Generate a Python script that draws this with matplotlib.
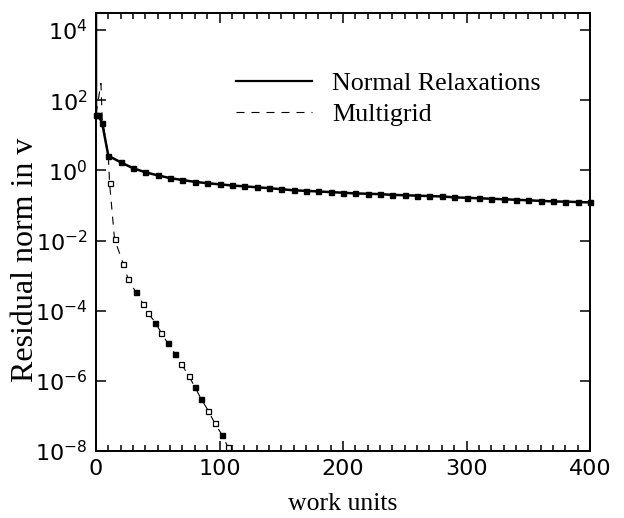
import numpy as np
import matplotlib
matplotlib.use("Agg")
import matplotlib.pyplot as plt
from matplotlib.lines import Line2D
from matplotlib.ticker import FixedLocator, MultipleLocator, NullLocator

# normal relaxations: residual vs work units
normal_x = [0, 0, 2, 5, 10, 20, 30, 40, 50, 60, 70, 80, 90, 100,
            110, 120, 130, 140, 150, 160, 170, 180, 190, 200,
            210, 220, 230, 240, 250, 260, 270, 280, 290, 300,
            310, 320, 330, 340, 350, 360, 370, 380, 390, 400]
normal_y = [1e5, 37, 37, 22, 2.6, 1.7, 1.15, 0.88, 0.72, 0.60, 0.53, 0.47, 0.43, 0.40,
            0.37, 0.35, 0.33, 0.31, 0.29, 0.27, 0.26, 0.25, 0.24, 0.23,
            0.22, 0.215, 0.21, 0.20, 0.195, 0.19, 0.185, 0.18, 0.17, 0.165,
            0.16, 0.155, 0.15, 0.145, 0.14, 0.135, 0.13, 0.128, 0.125, 0.122]

# multigrid
multi_x = [0, 4, 5, 10, 11, 15, 22, 26, 32, 38, 42, 48, 53, 58, 64, 69,
           75, 80, 85, 91, 96, 102, 107]
multi_y = [40, 300, 30, 2.6, 0.43, 0.011, 2.2e-3, 8e-4, 3.5e-4, 1.6e-4, 8.7e-5,
           4.6e-5, 2.3e-5, 1.2e-5, 5.9e-6, 3.1e-6, 1.4e-6, 6.8e-7, 3.1e-7,
           1.4e-7, 6.3e-8, 2.9e-8, 1.26e-8]
multi_filled = [0, 0, 0, 0, 0, 0, 0, 0, 1, 0, 0, 1, 0, 1, 1, 0,
                0, 1, 1, 0, 0, 1, 0]

x_ticks = [0, 100, 200, 300, 400]
y_exps = [4, 2, 0, -2, -4, -6, -8]

fig = plt.figure(figsize=(6.24, 5.18), dpi=100)
ax = fig.add_axes([96 / 624, 1 - 451 / 518, 494 / 624, 438 / 518])

# normal relaxations
ax.plot(normal_x, normal_y, color="black", lw=1.8, zorder=3)
ax.plot(normal_x[1:], normal_y[1:], ls="none", marker="s", ms=3.6,
        color="black", zorder=4, clip_on=False)

# multigrid
ax.plot(multi_x, multi_y, color="black", lw=0.8, dashes=(7.2, 6.3), zorder=3)
mx = np.array(multi_x[4:])
my = np.array(multi_y[4:])
mf = np.array(multi_filled[4:], dtype=bool)
ax.plot(mx[~mf], my[~mf], ls="none", marker="s", ms=3.6, mfc="white",
        mec="black", mew=0.9, zorder=4)
ax.plot(mx[mf], my[mf], ls="none", marker="s", ms=3.6, color="black", zorder=4)

ax.set_yscale("log")
ax.set_xlim(0, 400)
ax.set_ylim(1e-8, 10 ** 4.485)

ax.xaxis.set_major_locator(FixedLocator(x_ticks))
ax.xaxis.set_minor_locator(MultipleLocator(10))
ax.set_xticklabels([str(t) for t in x_ticks])
ax.yaxis.set_major_locator(FixedLocator([10.0 ** e for e in y_exps]))
ax.yaxis.set_minor_locator(NullLocator())
ax.set_yticklabels([r"$10^{%d}$" % e for e in y_exps])

ax.tick_params(which="both", direction="in", top=True, right=True,
               width=1.1, labelsize=16, colors="black")
ax.tick_params(which="major", length=7, pad=6)
ax.tick_params(which="minor", length=4)
for s in ax.spines.values():
    s.set_linewidth(1.4)

ax.set_xlabel("work units", family="Liberation Serif", fontsize=18.5, labelpad=10)
ax.set_ylabel("Residual norm in v", family="Liberation Serif", fontsize=23)
ax.yaxis.set_label_coords(-0.113, 0.436)

handles = [Line2D([], [], color="black", lw=1.6),
           Line2D([], [], color="black", lw=0.8, dashes=(7.2, 6.3))]
ax.legend(handles, ["Normal Relaxations", "Multigrid"], frameon=False,
          loc="upper left", bbox_to_anchor=(0.284, 0.865),
          prop={"family": "Liberation Serif", "size": 18.7},
          handlelength=2.9, handletextpad=0.8, labelspacing=0.3,
          borderaxespad=0, borderpad=0)

fig.savefig("out.png", dpi=100)
